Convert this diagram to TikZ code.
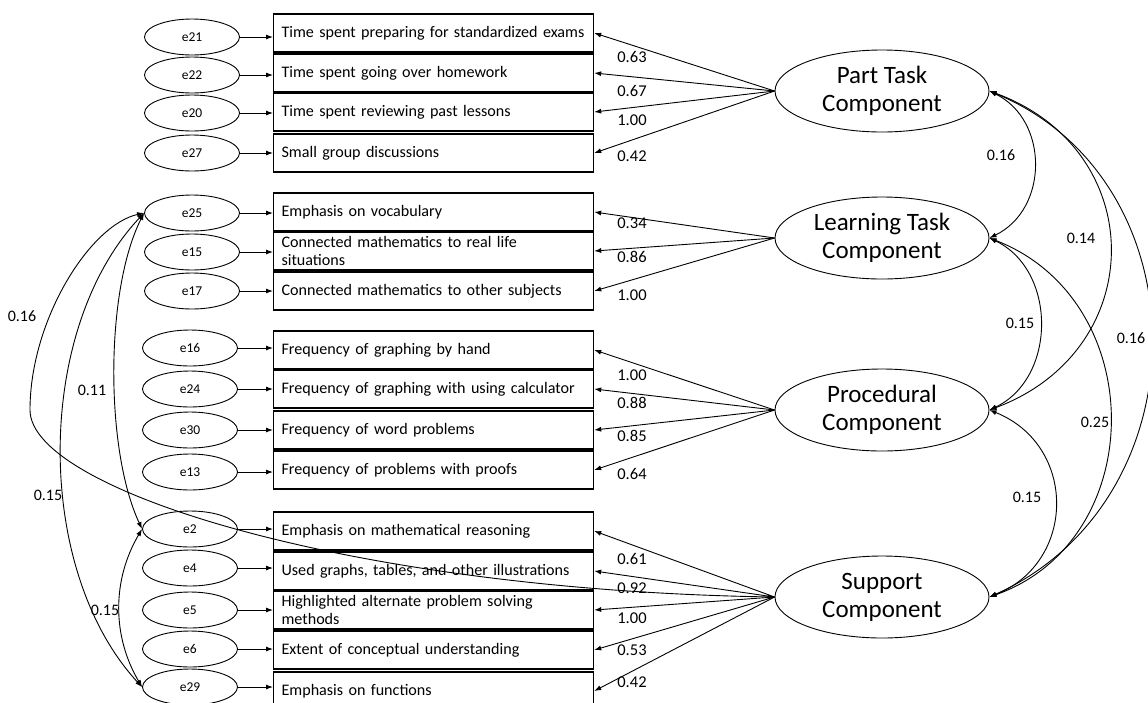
\documentclass[tikz,border=0pt]{standalone}
\usepackage{fontspec}
\setmainfont{Carlito}
\usetikzlibrary{shapes.geometric, arrows.meta}

\begin{document}
\begin{tikzpicture}[x=1pt, y=-1pt,
    every node/.style={font=\fontsize{16.1}{18.6}\selectfont},
    err/.style={ellipse, draw, line width=0.9pt, minimum width=95pt, minimum height=36pt,
      inner sep=0pt, font=\fontsize{13.5}{15}\selectfont},
    item/.style={rectangle, draw, line width=1.2pt, anchor=west, minimum width=320pt,
      minimum height=38pt, text width=304pt, align=left, inner xsep=8pt, inner ysep=1pt},
    latent/.style={ellipse, draw, line width=0.9pt, minimum width=214pt, minimum height=82pt,
      inner sep=0pt, align=center, font=\fontsize{25}{28}\selectfont},
    weight/.style={font=\fontsize{16.5}{18}\selectfont},
    corr/.style={font=\fontsize{16}{18}\selectfont},
    arr/.style={-{Latex[length=7pt,width=5pt]}, line width=0.9pt},
    twoway/.style={{Latex[length=7pt,width=5pt]}-{Latex[length=7pt,width=5pt]}, line width=0.9pt}]
  \useasboundingbox (0,0) rectangle (1148,702);

  %% *** Latent components ***
  \node [latent] (part)  at (882,91)  {Part Task\\Component};
  \node [latent] (learn) at (882,238) {Learning Task\\Component};
  \node [latent] (proc)  at (882,410) {Procedural\\Component};
  \node [latent] (supp)  at (882,597) {Support\\Component};

  %% *** Part task items ***
  \node [err] (e21) at (192,37)  {e21};
  \node [err] (e22) at (192,75)  {e22};
  \node [err] (e20) at (192,113) {e20};
  \node [err] (e27) at (192,153) {e27};
  \node [item] (i21) at (273,33)  {Time spent preparing for standardized exams};
  \node [item] (i22) at (273,73)  {Time spent going over homework};
  \node [item] (i20) at (273,112) {Time spent reviewing past lessons};
  \node [item] (i27) at (273,153) {Small group discussions};

  %% *** Learning task items ***
  \node [err] (e25) at (192,213) {e25};
  \node [err] (e15) at (192,252) {e15};
  \node [err] (e17) at (192,291) {e17};
  \node [item] (i25) at (273,212) {Emphasis on vocabulary};
  \node [item] (i15) at (273,251) {Connected mathematics to real life\\situations};
  \node [item] (i17) at (273,291) {Connected mathematics to other subjects};

  %% *** Procedural items ***
  \node [err] (e16) at (190,348) {e16};
  \node [err] (e24) at (190,389) {e24};
  \node [err] (e30) at (190,430) {e30};
  \node [err] (e13) at (190,472) {e13};
  \node [item] (i16) at (273,350) {Frequency of graphing by hand};
  \node [item] (i24) at (273,389) {Frequency of graphing with using calculator};
  \node [item] (i30) at (273,430) {Frequency of word problems};
  \node [item] (i13) at (273,470) {Frequency of problems with proofs};

  %% *** Support items ***
  \node [err] (e2)  at (190,529) {e2};
  \node [err] (e4)  at (190,568) {e4};
  \node [err] (e5)  at (190,610) {e5};
  \node [err] (e6)  at (190,649) {e6};
  \node [err] (e29) at (190,687) {e29};
  \node [item] (i2)  at (273,531) {Emphasis on mathematical reasoning};
  \node [item] (i4)  at (273,571) {Used graphs, tables, and other illustrations};
  \node [item] (i5)  at (273,610) {Highlighted alternate problem solving\\methods};
  \node [item] (i6)  at (273,650) {Extent of conceptual understanding};
  \node [item] (i29) at (273,691) {Emphasis on functions};

  %% *** Error paths ***
  \draw [arr] (e21.east) -- (e21.east -| i21.west);
  \draw [arr] (e22.east) -- (e22.east -| i22.west);
  \draw [arr] (e20.east) -- (e20.east -| i20.west);
  \draw [arr] (e27.east) -- (e27.east -| i27.west);
  \draw [arr] (e25.east) -- (e25.east -| i25.west);
  \draw [arr] (e15.east) -- (e15.east -| i15.west);
  \draw [arr] (e17.east) -- (e17.east -| i17.west);
  \draw [arr] (e16.east) -- (e16.east -| i16.west);
  \draw [arr] (e24.east) -- (e24.east -| i24.west);
  \draw [arr] (e30.east) -- (e30.east -| i30.west);
  \draw [arr] (e13.east) -- (e13.east -| i13.west);
  \draw [arr] (e2.east)  -- (e2.east -| i2.west);
  \draw [arr] (e4.east)  -- (e4.east -| i4.west);
  \draw [arr] (e5.east)  -- (e5.east -| i5.west);
  \draw [arr] (e6.east)  -- (e6.east -| i6.west);
  \draw [arr] (e29.east) -- (e29.east -| i29.west);

  %% *** Loadings ***
  \draw [arr] (part.west) -- (i21.east);
  \draw [arr] (part.west) -- (i22.east);
  \draw [arr] (part.west) -- (i20.east);
  \draw [arr] (part.west) -- (i27.east);
  \draw [arr] (learn.west) -- (i25.east);
  \draw [arr] (learn.west) -- (i15.east);
  \draw [arr] (learn.west) -- (i17.east);
  \draw [arr] (proc.west) -- (i16.east);
  \draw [arr] (proc.west) -- (i24.east);
  \draw [arr] (proc.west) -- (i30.east);
  \draw [arr] (proc.west) -- (i13.east);
  \draw [arr] (supp.west) -- (i2.east);
  \draw [arr] (supp.west) -- (i4.east);
  \draw [arr] (supp.west) -- (i5.east);
  \draw [arr] (supp.west) -- (i6.east);
  \draw [arr] (supp.west) -- (i29.east);

  \node [weight] (w21) at (632,57)  {0.63};
  \node [weight] (w22) at (632,91)  {0.67};
  \node [weight] (w20) at (632,120) {1.00};
  \node [weight] (w27) at (632,156) {0.42};
  \node [weight] (w25) at (632,223) {0.34};
  \node [weight] (w15) at (632,257) {0.86};
  \node [weight] (w17) at (632,295) {1.00};
  \node [weight] (w16) at (632,375) {1.00};
  \node [weight] (w24) at (632,403) {0.88};
  \node [weight] (w30) at (632,436) {0.85};
  \node [weight] (w13) at (632,474) {0.64};
  \node [weight] (w2)  at (632,559) {0.61};
  \node [weight] (w4)  at (632,588) {0.92};
  \node [weight] (w5)  at (632,618) {1.00};
  \node [weight] (w6)  at (632,650) {0.53};
  \node [weight] (w29) at (632,682) {0.42};

  %% *** Covariances between components ***
  \draw [twoway] (part.east) .. controls (1049,120) and (1049,209) .. (learn.east);
  \draw [twoway] (part.east) .. controls (1150,150) and (1150,350) .. (proc.east);
  \draw [twoway] (part.east) .. controls (1205,180) and (1205,500) .. (supp.east);
  \draw [twoway] (learn.east) .. controls (1057,270) and (1057,378) .. (proc.east);
  \draw [twoway] (learn.east) .. controls (1150,300) and (1150,540) .. (supp.east);
  \draw [twoway] (proc.east) .. controls (1077,445) and (1077,562) .. (supp.east);
  \node [corr] (c1) at (1001,155) {0.16};
  \node [corr] (c2) at (1081,238) {0.14};
  \node [corr] (c3) at (1131,338) {0.16};
  \node [corr] (c4) at (1020,323) {0.15};
  \node [corr] (c5) at (1095,422) {0.25};
  \node [corr] (c6) at (1027,497) {0.15};

  %% *** Covariances between errors ***
  \coordinate (bend) at (30,410);
  \draw [twoway] (e25.west) .. controls (105,290) and (105,450) .. (e2.west);
  \draw [twoway] (e25.west) .. controls (34,330) and (34,570) .. (e29.west);
  \draw [twoway] (e2.west) .. controls (112,580) and (112,636) .. (e29.west);
  \draw [twoway] (e25.west) .. controls (90,225) and (30,320) .. (bend)
    .. controls (30,490) and (350,590) .. (supp.west);
  \node [corr] (c7)  at (22,316)  {0.16};
  \node [corr] (c8)  at (92,390)  {0.11};
  \node [corr] (c9)  at (48,495)  {0.15};
  \node [corr] (c10) at (105,610) {0.15};
\end{tikzpicture}
\end{document}
